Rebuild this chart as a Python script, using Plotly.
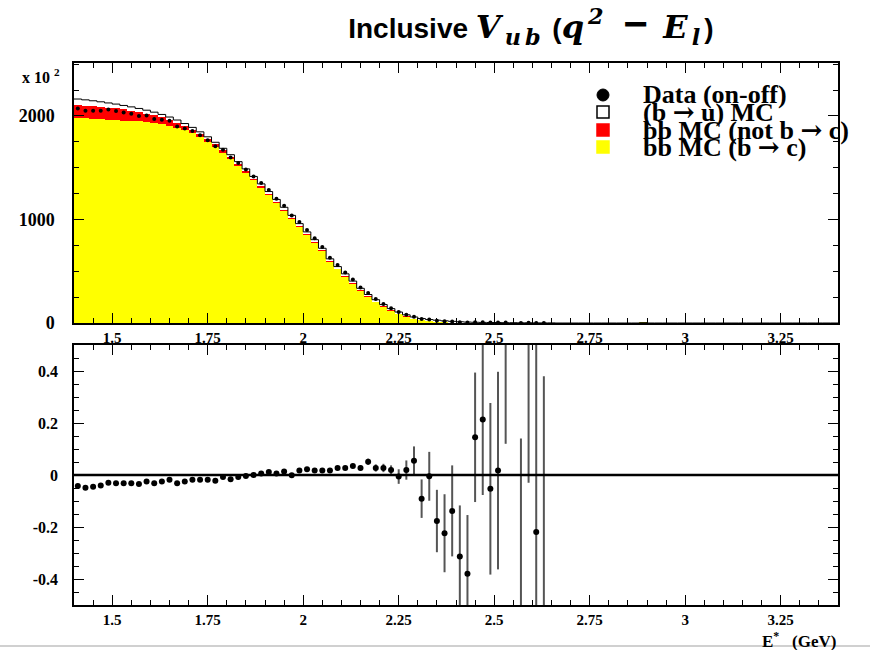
import numpy as np
import plotly.graph_objects as go

# ---------------- data ----------------
bin_lo, bin_hi, bin_w = 1.40, 3.40, 0.02
centers = np.round(np.arange(bin_lo + bin_w / 2, bin_hi, bin_w), 3)

# bb MC (b -> c)  [x 10^2 entries]
mc_bc = [1980, 1977, 1973, 1968, 1963, 1959, 1955, 1952, 1947, 1941,
         1933, 1922, 1908, 1888, 1862, 1832, 1795, 1751, 1702, 1647,
         1588, 1523, 1454, 1383, 1312, 1239, 1165, 1090, 1012, 934,
         854, 780, 698, 597, 523, 454, 385, 316, 257, 208,
         162, 124, 92, 66, 46, 31, 23, 17, 12, 7,
         4, 3, 2, 1, 1, 1, 0, 0, 0, 0,
         0, 0, 0, 0, 0, 0, 0, 0, 0, 0,
         0, 0, 0, 0, 3, 0, 0, 0, 0, 0,
         0, 0, 0, 0, 0, 0, 0, 0, 0, 0,
         0, 0, 0, 0, 0, 0, 0, 0, 0, 0]
# bb MC (not b -> c)
mc_notbc = [126, 124, 122, 120, 118, 114, 108, 100, 92, 83,
            74, 65, 56, 48, 41, 35, 30, 26, 23, 20,
            18, 16, 15, 14, 13, 12, 11, 10, 10, 9,
            9, 8, 8, 7, 7, 6, 6, 5, 5, 4,
            4, 3, 3, 2, 2, 2, 1, 1, 1, 1,
            1, 0, 0, 0, 0, 0, 0, 0, 0, 0] + [0] * 40
# (b -> u) MC
mc_bu = [58, 55, 52, 49, 45, 42, 39, 36, 34, 32,
         30, 28, 26, 25, 24, 23, 22, 22, 21, 21,
         20, 20, 20, 19, 19, 19, 18, 18, 18, 17,
         17, 17, 16, 16, 15, 15, 14, 14, 13, 13,
         12, 12, 11, 11, 10, 10, 9, 9, 8, 8,
         7, 6, 5, 5, 4, 4, 3, 3, 2, 2,
         1, 1, 1, 0, 0, 0, 0, 0, 0, 0] + [0] * 30

# (data - MC) / MC, bins 1.41 ... 2.63
ratio = [-0.042, -0.049, -0.045, -0.040, -0.030, -0.032, -0.032, -0.032, -0.035, -0.025,
         -0.032, -0.025, -0.018, -0.032, -0.025, -0.018, -0.018, -0.018, -0.022, -0.008,
         -0.016, -0.008, -0.004, 0.000, 0.006, 0.012, 0.006, 0.013, -0.001, 0.017,
         0.022, 0.017, 0.017, 0.017, 0.027, 0.027, 0.035, 0.027, 0.051, 0.027,
         0.027, 0.019, -0.006, 0.019, 0.055, -0.091, -0.005, -0.177, -0.224, -0.138,
         -0.313, -0.380, 0.145, 0.213, -0.053, 0.017, 0.60, None, -0.65, 0.75,
         -0.219, -0.62]
ratio_err = [0.004] * 26 + [0.005] * 8 + [
    0.006, 0.007, 0.008, 0.010, 0.012, 0.014, 0.016, 0.018, 0.028, 0.037,
    0.055, 0.074, 0.094, 0.12, 0.15, 0.175, 0.196, 0.226, 0.249, 0.29,
    0.33, 0.38, 0.48, None, 0.79, 0.78, 0.80, 1.0]

xtick_vals = [1.5, 1.75, 2, 2.25, 2.5, 2.75, 3, 3.25]
xtick_text = ["1.5", "1.75", "2", "2.25", "2.5", "2.75", "3", "3.25"]
ytop_vals = [0, 1000, 2000]
ytop_text = ["0", "1000", "2000"]
ybot_vals = [-0.4, -0.2, 0, 0.2, 0.4]
ybot_text = ["-0.4", "-0.2", "0", "0.2", "0.4"]

ARW = "<span style=\"font-family:DejaVu Serif\">\u2192</span>"
legend_labels = ["Data (on-off)", "(b " + ARW + " u) MC", "bb MC (not b " + ARW + " c)", "bb MC (b " + ARW + " c)"]

# ---------------- derived ----------------
n_r = len(ratio)
r_x = centers[:n_r]
total = np.array(mc_bc) + np.array(mc_notbc) + np.array(mc_bu)
data_top = [None if r is None else total[i] * (1 + r) for i, r in enumerate(ratio)]
edges = np.round(np.arange(bin_lo, bin_hi + bin_w / 2, bin_w), 3)
outline_y = list(total) + [total[-1]]

SERIF = "Liberation Serif"

fig = go.Figure()
fig.add_trace(go.Bar(x=centers, y=mc_bc, width=bin_w, marker=dict(color="#ffff00", line=dict(width=0)),
                     xaxis="x", yaxis="y", showlegend=False, name="bb MC (b→c)"))
fig.add_trace(go.Bar(x=centers, y=mc_notbc, width=bin_w, marker=dict(color="#ff0000", line=dict(width=0)),
                     xaxis="x", yaxis="y", showlegend=False, name="bb MC (not b→c)"))
fig.add_trace(go.Bar(x=centers, y=mc_bu, width=bin_w, marker=dict(color="#ffffff", line=dict(width=0)),
                     xaxis="x", yaxis="y", showlegend=False, name="(b→u) MC"))
fig.add_trace(go.Scatter(x=edges, y=outline_y, mode="lines", line=dict(color="black", width=1, shape="hv"),
                         xaxis="x", yaxis="y", showlegend=False, hoverinfo="skip"))
fig.add_trace(go.Scatter(x=r_x, y=data_top, mode="markers", marker=dict(color="black", size=4),
                         xaxis="x", yaxis="y", showlegend=False, name="Data"))

fig.add_trace(go.Scatter(x=r_x, y=ratio, mode="markers",
                         marker=dict(color="black", size=6),
                         error_y=dict(type="data", array=ratio_err, visible=True, color="#555555",
                                      thickness=2, width=0),
                         xaxis="x2", yaxis="y2", showlegend=False, name="ratio"))

axis_common = dict(showline=True, linecolor="black", linewidth=1.5, mirror="ticks",
                   ticks="inside", tickcolor="black", showgrid=False, zeroline=False)

MATH = "font-family:DejaVu Serif;font-style:italic;font-size:32px;letter-spacing:4px"
title_text = ("<b>Inclusive\u00a0<span style=\"" + MATH + "\">V<sub>ub</sub></span>"
              "\u00a0(<span style=\"" + MATH + "\">q<sup>2</sup></span>\u00a0\u00a0"
              "<span style=\"font-size:42px\">\u2212</span>\u00a0\u00a0"
              "<span style=\"" + MATH + "\">E<sub>l</sub></span>)</b>")

fig.update_layout(
    width=870, height=650,
    margin=dict(l=74, r=32, t=63, b=45),
    paper_bgcolor="white", plot_bgcolor="white",
    barmode="stack", bargap=0,
    xaxis=dict(domain=[0, 1], range=[1.4, 3.4], anchor="y", tickvals=xtick_vals, ticktext=xtick_text,
               ticklen=10, tickwidth=1.2, minor=dict(dtick=0.05, tick0=1.4, ticklen=5, ticks="inside", tickcolor="black"),
               tickfont=dict(family=SERIF, size=15, color="black", weight="bold"), **axis_common),
    yaxis=dict(domain=[0.5203, 1], range=[0, 2512], anchor="x", tickvals=ytop_vals, ticktext=ytop_text,
               ticklen=10, tickwidth=1.2, ticklabelstandoff=14,
               minor=dict(dtick=250, tick0=0, ticklen=5, ticks="inside", tickcolor="black"),
               tickfont=dict(family=SERIF, size=18, color="black", weight="bold"), **axis_common),
    xaxis2=dict(domain=[0, 1], range=[1.4, 3.4], anchor="y2", tickvals=xtick_vals, ticktext=xtick_text,
                ticklen=10, tickwidth=1.2, minor=dict(dtick=0.05, tick0=1.4, ticklen=5, ticks="inside", tickcolor="black"),
                tickfont=dict(family=SERIF, size=15, color="black", weight="bold"), **axis_common),
    yaxis2=dict(domain=[0, 0.4797], range=[-0.5, 0.5], anchor="x2", tickvals=ybot_vals, ticktext=ybot_text,
                ticklen=10, tickwidth=1.2, ticklabelstandoff=11,
                minor=dict(dtick=0.05, tick0=0, ticklen=5, ticks="inside", tickcolor="black"),
                tickfont=dict(family=SERIF, size=16, color="black", weight="bold"), **axis_common),
    title=dict(
        text=title_text,
        x=0.598, xref="paper", xanchor="center", y=1 - 28 / 650, yref="container", yanchor="middle",
        font=dict(family="Liberation Sans", size=28, color="black")),
)

# zero line in ratio panel
fig.add_shape(type="line", xref="x2 domain", yref="y2", x0=0, x1=1, y0=0, y1=0,
              line=dict(color="black", width=2.5))

def py(p):
    return (605 - p) / 542
def px(p):
    return (p - 74) / 764

# legend (drawn manually to match the tight ROOT layout)
leg_txt_x = px(641)
leg_ys_px = [95, 112, 130, 147]
fig.add_shape(type="circle", xref="paper", yref="paper",
              x0=px(597), x1=px(609), y0=py(101), y1=py(89), fillcolor="black", line=dict(color="black", width=1))
for k, col in enumerate(["white", "#ff0000", "#ffff00"]):
    yc = leg_ys_px[k + 1]
    fig.add_shape(type="rect", xref="paper", yref="paper", x0=px(597), x1=px(609), y0=py(yc + 6), y1=py(yc - 6),
                  fillcolor=col, line=dict(color="black" if col == "white" else col, width=1.5))
for lab, ypx in zip(legend_labels, leg_ys_px):
    fig.add_annotation(text="<b>" + lab + "</b>", xref="paper", yref="paper", x=leg_txt_x, y=py(ypx),
                       xanchor="left", yanchor="middle", showarrow=False,
                       font=dict(family=SERIF, size=26, color="black"))

# multiplier label and axis title
fig.add_annotation(text="<b>x 10 <sup>2</sup></b>", xref="paper", yref="paper", x=px(62), y=py(76),
                   xanchor="right", yanchor="middle", showarrow=False,
                   font=dict(family=SERIF, size=16, color="black"))
fig.add_annotation(text="<b>E<sup>*</sup>   (GeV)</b>", xref="paper", yref="paper", x=px(838), y=py(640),
                   xanchor="right", yanchor="middle", showarrow=False,
                   font=dict(family=SERIF, size=17, color="black"))
# screenshot border line at the bottom
fig.add_shape(type="line", xref="paper", yref="paper", x0=px(0), x1=px(870), y0=py(646), y1=py(646),
              line=dict(color="#d0d0d0", width=2))

fig.write_html("out.html")
